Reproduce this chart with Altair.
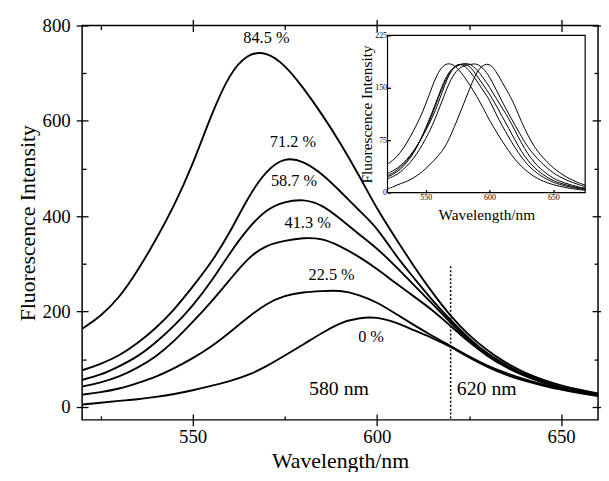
import altair as alt
import pandas as pd

# ---------------- data ----------------
wavelengths = [520, 525, 530, 535, 540, 545, 550, 555, 560, 565, 570, 575, 580, 585, 590, 595,
               600, 605, 610, 615, 620, 625, 630, 635, 640, 645, 650, 655, 660, 665, 670, 675]
series_names = ["84.5 %", "71.2 %", "58.7 %", "41.3 %", "22.5 %", "0 %"]
s84 = [164, 190, 228, 285, 350, 422, 508, 612, 700, 742, 745, 718, 670, 615, 555, 488,
       415, 355, 295, 240, 190, 150, 118, 92, 72, 57, 45, 36, 28, 22, 17, 13]
s71 = [77, 90, 107, 133, 165, 204, 252, 302, 364, 440, 497, 524, 516, 490, 453, 413,
       377, 318, 271, 224, 182, 143, 111, 88, 68, 54, 41, 33, 26, 21, 16, 12]
s58 = [57, 67, 85, 105, 135, 170, 212, 262, 322, 375, 415, 431, 436, 425, 395, 363,
       333, 296, 256, 217, 177, 138, 108, 85, 66, 52, 40, 32, 26, 20, 16, 12]
s41 = [43, 51, 63, 82, 105, 138, 178, 220, 266, 313, 340, 349, 355, 354, 338, 316,
       290, 260, 232, 204, 170, 136, 106, 83, 65, 51, 39, 31, 25, 20, 15, 12]
s22 = [26, 31, 38, 50, 63, 81, 102, 126, 156, 188, 217, 234, 241, 243, 245, 236,
       220, 196, 172, 149, 128, 106, 86, 71, 58, 47, 37, 30, 24, 19, 15, 11]
s0 = [5, 9, 13, 16, 21, 27, 35, 44, 54, 66, 85, 108, 131, 155, 177, 187,
      189, 178, 161, 145, 127, 103, 84, 67, 55, 45, 36, 29, 23, 18, 14, 11]
series_values = [s84, s71, s58, s41, s22, s0]

label_wl = [570.0, 577.2, 577.5, 581.2, 587.7, 598.4]
label_int = [773, 556, 473, 386, 276, 147]
nm_texts = ["580 nm", "620 nm"]
nm_wl = [589.7, 629.8]
nm_int = [38, 37]
marker_wl = [620]
marker_top = [295]

x_domain = [520, 660]
y_domain = [-27, 800]
x_major = [550, 600, 650]
x_minor = [525, 575, 625]
y_major = [0, 200, 400, 600, 800]
y_minor = [100, 300, 500, 700]

inset_x_domain = [520, 675]
inset_y_domain = [0, 225]
inset_x_ticks = [550, 600, 650]
inset_y_ticks = [0, 75, 150, 225]
inset_peak = [185]

# ---------------- tables ----------------
rows = []
for name, vals in zip(series_names, series_values):
    for w, v in zip(wavelengths, vals):
        rows.append({"series": name, "wl": w, "val": v})
df = pd.DataFrame(rows)
lab_df = pd.DataFrame({"label": series_names, "wl": label_wl, "val": label_int})
nm_df = pd.DataFrame({"label": nm_texts, "wl": nm_wl, "val": nm_int})
marker_df = pd.DataFrame({"wl": marker_wl, "top": marker_top, "bottom": [y_domain[0]]})
frame_df = pd.DataFrame({"x0": [inset_x_domain[0]], "x1": [inset_x_domain[1]],
                         "y0": [inset_y_domain[0]], "y1": [inset_y_domain[1]]})

FONT = "Liberation Serif"
W, H = 522, 399
INSET_X_RANGE = [309, 509]
INSET_Y_RANGE = [169, 10]

xs = alt.Scale(domain=x_domain, nice=False, zero=False)
ys = alt.Scale(domain=y_domain, nice=False, zero=False)


def ax(orient, values, size, off, labels=False, **kw):
    return alt.Axis(orient=orient, values=values, tickSize=size, offset=off, labels=labels,
                    domain=False, grid=False, tickColor="black", tickWidth=1.3, **kw)


lines = alt.Chart(df).mark_line(color="black", strokeWidth=1.9, clip=True,
                                interpolate="basis").encode(
    x=alt.X("wl:Q", scale=xs,
            axis=ax("bottom", x_major, 12, -6, labels=True, labelPadding=2, labelFontSize=19,
                    title="Wavelength/nm", titleFontSize=22, titlePadding=4)),
    y=alt.Y("val:Q", scale=ys,
            axis=ax("left", y_major, 12, -6, labels=True, labelPadding=6, labelFontSize=19,
                    title="Fluorescence Intensity", titleFontSize=22, titlePadding=3)),
    detail="series:N",
)

rule = alt.Chart(marker_df).mark_rule(color="black", strokeDash=[2, 2], strokeWidth=1.5).encode(
    x=alt.X("wl:Q", scale=xs, axis=ax("bottom", x_minor, 4, -4, title=None)),
    y=alt.Y("top:Q", scale=ys, axis=ax("left", y_minor, 4, -4, title=None)),
    y2="bottom:Q",
)

pct = alt.Chart(lab_df).mark_text(font=FONT, fontSize=16.5, color="black").encode(
    x=alt.X("wl:Q", scale=xs, axis=ax("top", x_major, 12, -6, title=None)),
    y=alt.Y("val:Q", scale=ys, axis=ax("right", y_major, 12, -6, title=None)),
    text="label:N",
)

nm = alt.Chart(nm_df).mark_text(font=FONT, fontSize=20, color="black").encode(
    x=alt.X("wl:Q", scale=xs, axis=ax("top", x_minor, 4, -4, title=None)),
    y=alt.Y("val:Q", scale=ys, axis=ax("right", y_minor, 4, -4, title=None)),
    text="label:N",
)

main = alt.layer(lines, rule, pct, nm).resolve_axis(x="independent", y="independent")

ixs = alt.Scale(domain=inset_x_domain, range=INSET_X_RANGE, nice=False, zero=False)
iys = alt.Scale(domain=inset_y_domain, range=INSET_Y_RANGE, nice=False, zero=False)
inset_x_axis = ax("bottom", inset_x_ticks, 3, -(H - INSET_Y_RANGE[0]) - 3, labels=True,
                  labelFontSize=8, labelPadding=1, title="Wavelength/nm", titleFontSize=15.5,
                  titlePadding=6, zindex=1, labelColor="black")
inset_y_axis = ax("left", inset_y_ticks, 3, -INSET_X_RANGE[0] - 3, labels=True,
                  labelFontSize=8, labelPadding=1, title="Fluorescence Intensity",
                  titleFontSize=15.5, titlePadding=0, zindex=1, labelColor="black")

frame = alt.Chart(frame_df).mark_rect(fill="white", stroke="black", strokeWidth=1.2).encode(
    x=alt.X("x0:Q", scale=ixs, axis=inset_x_axis),
    x2="x1:Q",
    y=alt.Y("y0:Q", scale=iys, axis=inset_y_axis),
    y2="y1:Q",
)

inset_lines = alt.Chart(df).transform_joinaggregate(
    peak="max(val)", groupby=["series"]
).transform_calculate(
    norm=f"datum.val / datum.peak * {inset_peak[0]}"
).mark_line(color="black", strokeWidth=1, interpolate="basis", clip=True).encode(
    x=alt.X("wl:Q", scale=ixs, axis=inset_x_axis),
    y=alt.Y("norm:Q", scale=iys, axis=inset_y_axis),
    detail="series:N",
)

inset = alt.layer(frame, inset_lines)

chart = alt.layer(main, inset).resolve_scale(x="independent", y="independent").properties(
    width=W, height=H,
    padding={"left": 75, "top": 15, "right": 3, "bottom": 50},
    autosize=alt.AutoSizeParams(type="none"),
    background="white",
).configure_view(stroke="black", strokeWidth=1.5).configure_axis(
    labelFont=FONT, titleFont=FONT, labelColor="black", titleColor="black",
    titleFontWeight="normal",
)

chart.save("out.html", embed_options={"renderer": "svg", "actions": False})
